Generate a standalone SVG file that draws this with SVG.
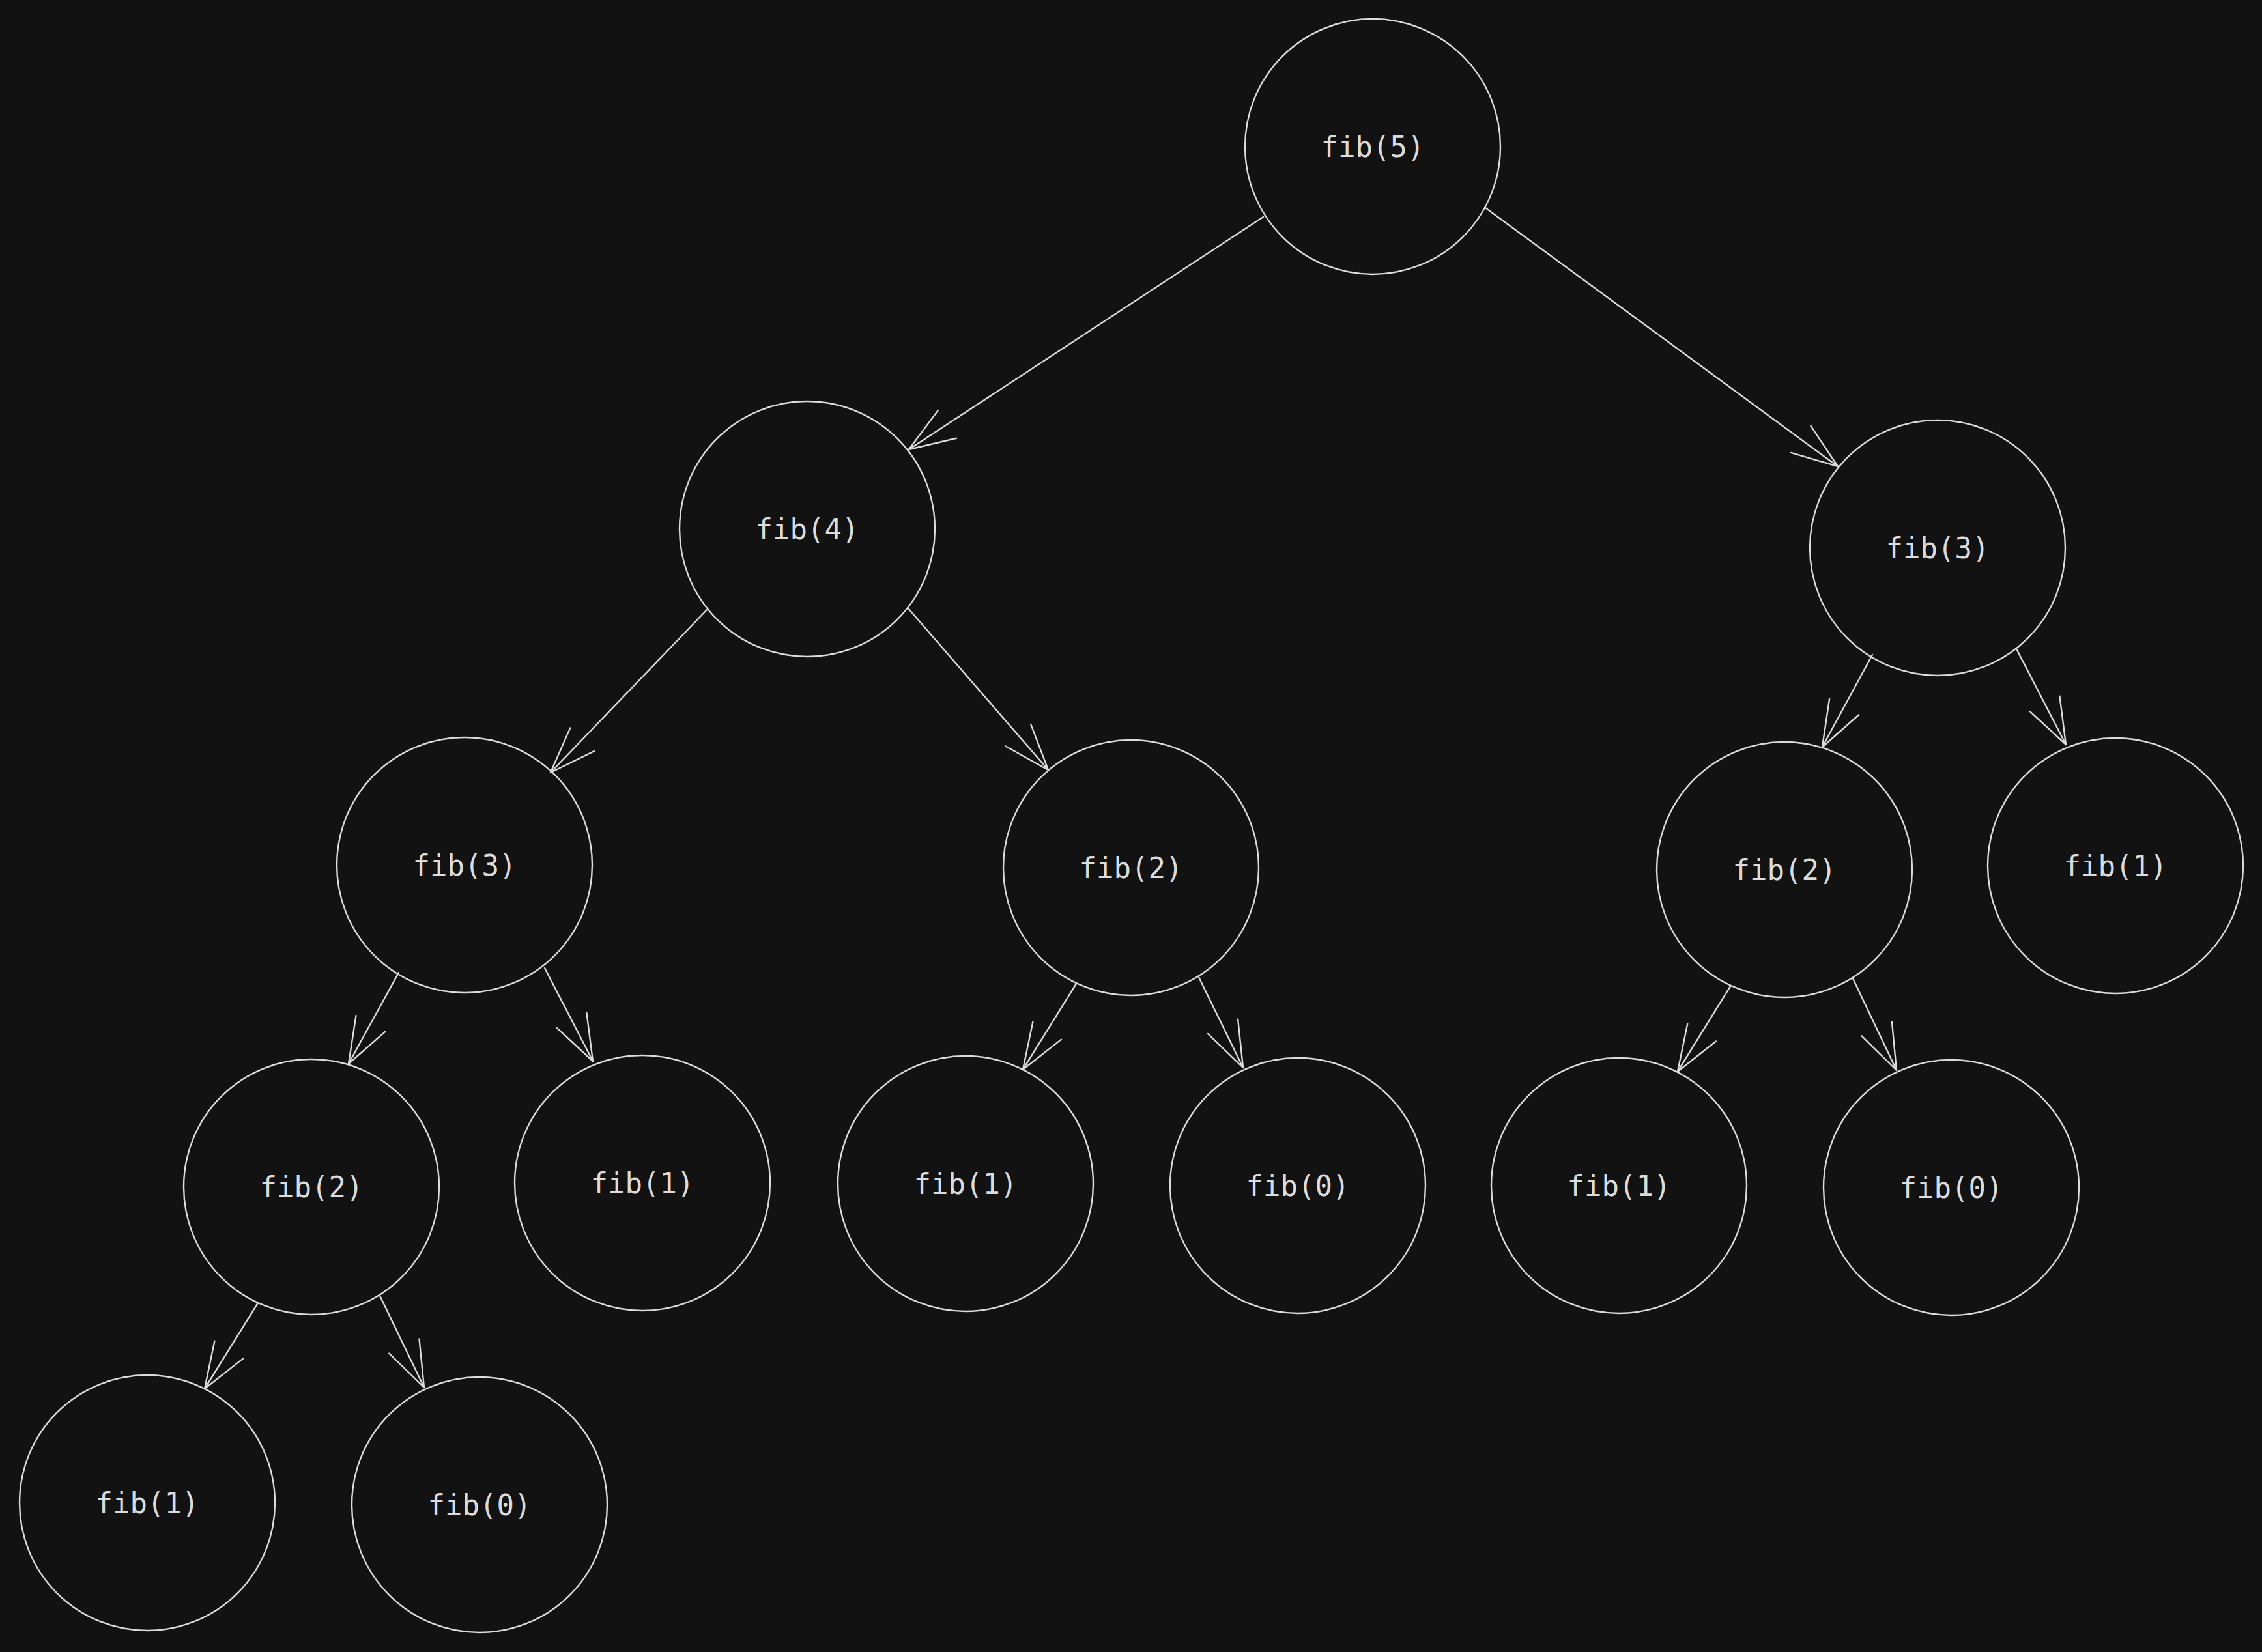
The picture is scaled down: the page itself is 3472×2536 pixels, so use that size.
<svg xmlns="http://www.w3.org/2000/svg" width="3472" height="2536" viewBox="0 0 3472 2536">
<style>
.node circle{fill:#121212;stroke:#dcdcdc;stroke-width:2.4}
.node text{font-family:"DejaVu Sans Mono","Liberation Mono",monospace;font-size:44px;fill:#dcdcdc;text-anchor:middle}
.edges line{stroke:#dcdcdc;stroke-width:2.4;stroke-linecap:round;fill:none}
</style>
<defs>
<marker id="ah" markerUnits="userSpaceOnUse" viewBox="-80 -40 90 80" markerWidth="90" markerHeight="80" refX="0" refY="0" orient="auto" overflow="visible">
<path d="M -70.5 -25.65 L 0 0 L -70.5 25.65" fill="none" stroke="#dcdcdc" stroke-width="2.4" stroke-linecap="round" stroke-linejoin="round"/>
</marker>
</defs>
<rect x="0" y="0" width="3472" height="2536" fill="#121212"/>
<g id="n5" class="node"><circle cx="2107" cy="225" r="196"/><text x="2107" y="241">fib(5)</text></g>
<g id="n4" class="node"><circle cx="1239" cy="812" r="196"/><text x="1239" y="828">fib(4)</text></g>
<g id="n3R" class="node"><circle cx="2974" cy="841" r="196"/><text x="2974" y="857">fib(3)</text></g>
<g id="n3L" class="node"><circle cx="713" cy="1328" r="196"/><text x="713" y="1344">fib(3)</text></g>
<g id="n2M" class="node"><circle cx="1736" cy="1332" r="196"/><text x="1736" y="1348">fib(2)</text></g>
<g id="n2R" class="node"><circle cx="2739" cy="1335" r="196"/><text x="2739" y="1351">fib(2)</text></g>
<g id="n1R" class="node"><circle cx="3247" cy="1329" r="196"/><text x="3247" y="1345">fib(1)</text></g>
<g id="n2L" class="node"><circle cx="478" cy="1822" r="196"/><text x="478" y="1838">fib(2)</text></g>
<g id="n1a" class="node"><circle cx="986" cy="1816" r="196"/><text x="986" y="1832">fib(1)</text></g>
<g id="n1b" class="node"><circle cx="1482" cy="1817" r="196"/><text x="1482" y="1833">fib(1)</text></g>
<g id="n0a" class="node"><circle cx="1992" cy="1820" r="196"/><text x="1992" y="1836">fib(0)</text></g>
<g id="n1c" class="node"><circle cx="2485" cy="1820" r="196"/><text x="2485" y="1836">fib(1)</text></g>
<g id="n0b" class="node"><circle cx="2995" cy="1823" r="196"/><text x="2995" y="1839">fib(0)</text></g>
<g id="n1d" class="node"><circle cx="226" cy="2307" r="196"/><text x="226" y="2323">fib(1)</text></g>
<g id="n0c" class="node"><circle cx="736" cy="2310" r="196"/><text x="736" y="2326">fib(0)</text></g>
<g id="edges" class="edges">
<line x1="1939" y1="333" x2="1395" y2="690" marker-end="url(#ah)"/>
<line x1="2280" y1="319" x2="2821" y2="716" marker-end="url(#ah)"/>
<line x1="1085" y1="936" x2="845" y2="1186" marker-end="url(#ah)"/>
<line x1="1395" y1="935" x2="1609" y2="1182" marker-end="url(#ah)"/>
<line x1="2874" y1="1005" x2="2797" y2="1147" marker-end="url(#ah)"/>
<line x1="3096" y1="998" x2="3171" y2="1143" marker-end="url(#ah)"/>
<line x1="612" y1="1493" x2="535" y2="1633" marker-end="url(#ah)"/>
<line x1="836" y1="1486" x2="910" y2="1629" marker-end="url(#ah)"/>
<line x1="1652" y1="1510" x2="1570" y2="1642" marker-end="url(#ah)"/>
<line x1="1840" y1="1500" x2="1908" y2="1639" marker-end="url(#ah)"/>
<line x1="2656" y1="1514" x2="2575" y2="1645" marker-end="url(#ah)"/>
<line x1="2844" y1="1502" x2="2911" y2="1643" marker-end="url(#ah)"/>
<line x1="396" y1="2000" x2="314" y2="2132" marker-end="url(#ah)"/>
<line x1="583" y1="1989" x2="651" y2="2130" marker-end="url(#ah)"/>
</g>
</svg>
